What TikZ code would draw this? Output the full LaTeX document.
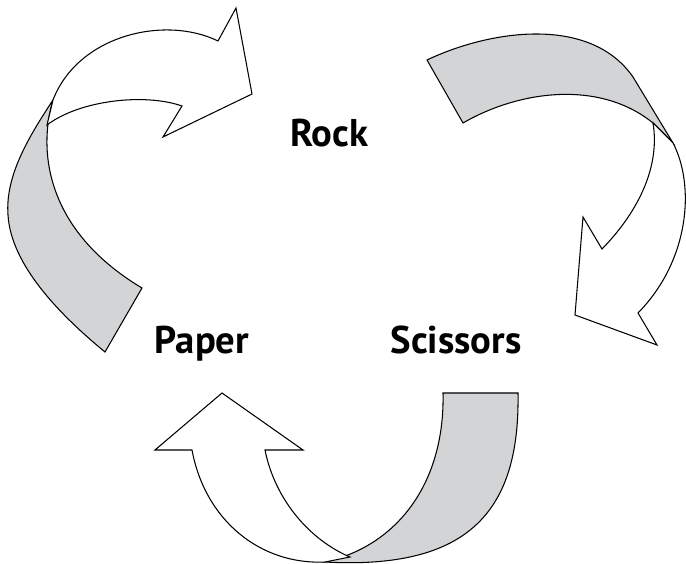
\documentclass[tikz,border=0pt]{standalone}
\usepackage{fontspec}
\setmainfont{PT Sans}
\definecolor{ribbongray}{RGB}{211,212,214}
\begin{document}
\begin{tikzpicture}[x=0.02cm,y=-0.02cm,
  ribbon/.style={draw=black,line width=0.6pt,line join=miter},
  backside/.style={ribbon,fill=ribbongray},
  frontside/.style={ribbon,fill=white},
  word/.style={font=\fontsize{22}{26}\selectfont\bfseries,inner sep=0pt,anchor=base}]
\useasboundingbox (0,0) rectangle (686,564);

% Paper -> Rock: grey underside of the twisted ribbon
\path[backside] (53,100) .. controls (30,135) and (5,175) .. (8,215)
  .. controls (11,265) and (60,315) .. (105,352) -- (142,288)
  .. controls (45,230) and (38,150) .. (53,100) -- cycle;
% Paper -> Rock: white face with the arrow head
\path[frontside] (53,100) .. controls (78,35) and (165,15) .. (218,41)
  -- (236,8) -- (252,94) -- (163,137) -- (182,106)
  .. controls (145,93) and (80,100) .. (47,125) -- (53,100) -- cycle;

% Rock -> Scissors: grey underside
\path[backside] (427,60) .. controls (490,30) and (590,15) .. (633,77) -- (673,143)
  -- (653,123) .. controls (600,80) and (520,90) .. (463,123) -- cycle;
% Rock -> Scissors: white face
\path[frontside] (653,123) -- (673,143) .. controls (695,185) and (690,260) .. (638,313)
  -- (657,345) -- (575,315) -- (583,217) -- (602,249)
  .. controls (640,210) and (660,165) .. (653,123) -- cycle;

% Scissors -> Paper: grey underside
\path[backside] (443,393) -- (518,393) .. controls (520,510) and (470,570) .. (325,562)
  .. controls (400,545) and (445,480) .. (443,393) -- cycle;
% Scissors -> Paper: white face
\path[frontside] (325,562) .. controls (260,565) and (205,520) .. (192,450)
  -- (155,450) -- (222,393) -- (303,450) -- (265,450)
  .. controls (275,500) and (310,540) .. (350,557) -- (325,562) -- cycle;

\node[word] (rock) at (329,147) {Rock};
\node[word] (paper) at (202,353) {Paper};
\node[word] (scissors) at (456,353) {Scissors};
\end{tikzpicture}
\end{document}
